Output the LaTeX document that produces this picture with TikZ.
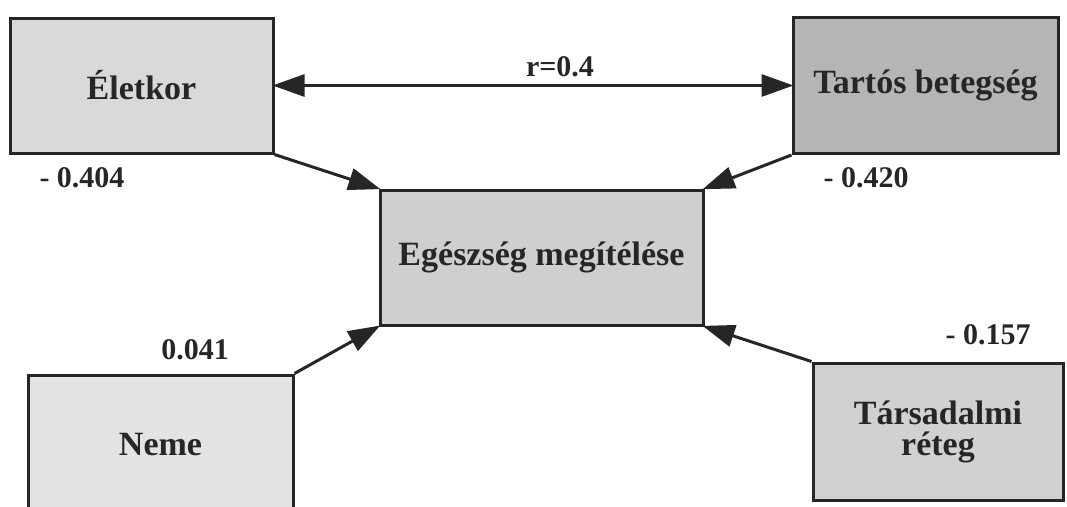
\documentclass[tikz,border=0pt]{standalone}
\usepackage{fontspec}
\setmainfont{Liberation Serif}
\usetikzlibrary{arrows.meta}
\definecolor{ink}{gray}{0.15}
\tikzset{
  factor/.style={draw=ink, line width=3pt, text=ink, font=\bfseries\fontsize{34}{31}\selectfont, align=center, inner sep=0pt},
  coef/.style={text=ink, font=\bfseries\fontsize{30}{34}\selectfont, inner sep=0pt},
  effect/.style={draw=ink, line width=3pt, -{Triangle[length=32pt,width=22pt]}, shorten >=-2pt},
}
\begin{document}
\begin{tikzpicture}[x=1pt, y=-1pt]
			%%%%% START %%%%%
			\useasboundingbox (0, 0) rectangle (1067, 506);
			
			\node[factor, fill=black!15, minimum width=263pt, minimum height=135pt] (eletkor) at (141.5, 85.5) {Életkor};
			\node[factor, fill=black!29, minimum width=265pt, minimum height=136pt] (tartos) at (925.5, 85.5) {Tartós betegség};
			\node[factor, fill=black!19, minimum width=323pt, minimum height=135pt] (egeszseg) at (541.5, 257.5) {Egészség megítélése};
			\node[factor, fill=black!11, minimum width=265pt, minimum height=140pt] (neme) at (160.5, 445) {Neme};
			\node[factor, fill=black!18, minimum width=250pt, minimum height=137pt] (reteg) at (938, 431.5) {Társadalmi\\réteg};
			
			\draw[effect, {Triangle[length=32pt,width=22pt]}-{Triangle[length=32pt,width=22pt]}, shorten <=-2pt] (eletkor.east) -- (tartos.west);
			\node[coef] (r) at (560, 67) {r=0.4};
			
			\draw[effect] (eletkor.south east) -- (egeszseg.north west);
			\draw[effect] (tartos.south west) -- (egeszseg.north east);
			\draw[effect] (neme.north east) -- (egeszseg.south west);
			\draw[effect] (reteg.north west) -- (egeszseg.south east);
			
			\node[coef] (b1) at (82, 178) {- 0.404};
			\node[coef] (b2) at (866, 178) {- 0.420};
			\node[coef] (b3) at (195, 350) {0.041};
			\node[coef] (b4) at (988, 335) {- 0.157};
			%%%%% END %%%%%
\end{tikzpicture}
\end{document}
